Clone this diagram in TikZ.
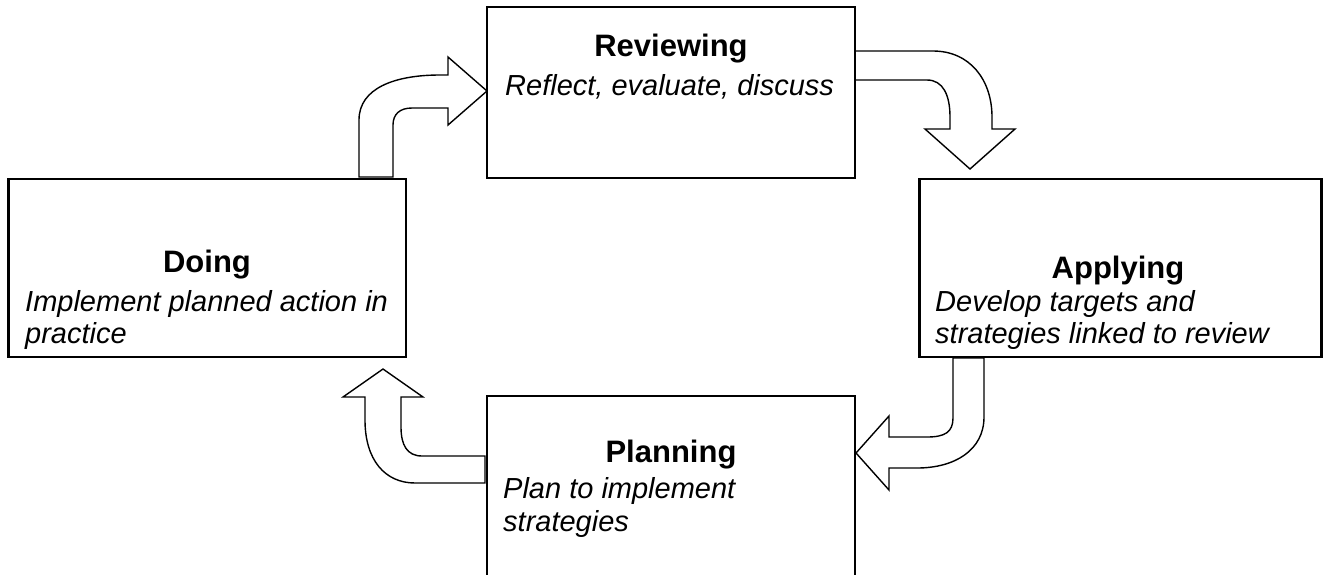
\documentclass[tikz,border=0pt]{standalone}
\usepackage{fontspec}
\setmainfont{Liberation Sans}
\begin{document}
\begin{tikzpicture}[x=1pt,y=-1pt,
  box/.style={draw=black,line width=2.2pt,fill=white,inner sep=0pt,outer sep=0pt},
  arrowshape/.style={draw=black,line width=1.4pt,fill=white,line join=miter},
  title/.style={font=\bfseries\fontsize{31}{36}\selectfont,anchor=base,inner sep=0pt},
  body/.style={font=\itshape\fontsize{29}{33}\selectfont,anchor=base west,inner sep=0pt}]
\useasboundingbox[fill=white] (0,0) rectangle (1323,574);

% arrows
\draw[arrowshape] (359,177) -- (359,120) .. controls (359,88) and (395,75) .. (440,75)
  -- (448,75) -- (448,57) -- (487,91) -- (448,125) -- (448,108) -- (412,108)
  .. controls (400,108) and (393,114) .. (393,125) -- (393,177) -- cycle;
\draw[arrowshape] (855,51) -- (933,51) .. controls (970,51) and (992,80) .. (992,117)
  -- (992,129) -- (1015,129) -- (970,169) -- (925,129) -- (950,129) -- (950,117)
  .. controls (950,95) and (943,80) .. (927,80) -- (855,80) -- cycle;
\draw[arrowshape] (953,358) -- (953,418) .. controls (953,432) and (945,437) .. (927,437)
  -- (889,437) -- (889,416) -- (856,453) -- (889,490) -- (889,468) -- (917,468)
  .. controls (955,468) and (984,450) .. (984,417) -- (984,358) -- cycle;
\draw[arrowshape] (485,456) -- (422,456) .. controls (407,456) and (401,445) .. (401,427)
  -- (401,397) -- (423,397) -- (383,369) -- (343,397) -- (365,397) -- (365,420)
  .. controls (365,460) and (385,483) .. (415,483) -- (485,483) -- cycle;

% boxes
\node[box,minimum width=368pt,minimum height=171pt] (rev) at (671,92.5) {};
\node[box,minimum width=397.5pt,minimum height=178pt] (doi) at (207.25,268) {};
\node[box,minimum width=402pt,minimum height=178pt] (app) at (1120.5,268) {};
\node[box,minimum width=368pt,minimum height=200pt] (pla) at (671,496) {};

% texts
\node[title] (revt) at (671,56) {Reviewing};
\node[body] (revb) at (505,95) {Reflect, evaluate, discuss};

\node[title] (doit) at (207,272) {Doing};
\node[body] (doib1) at (25,311) {Implement planned action in};
\node[body] (doib2) at (25,343) {practice};

\node[title] (appt) at (1118,278) {Applying};
\node[body] (appb1) at (935,311) {Develop targets and};
\node[body] (appb2) at (935,343) {strategies linked to review};

\node[title] (plat) at (671,462) {Planning};
\node[body] (plab1) at (503,498) {Plan to implement};
\node[body] (plab2) at (503,531) {strategies};
\end{tikzpicture}
\end{document}
